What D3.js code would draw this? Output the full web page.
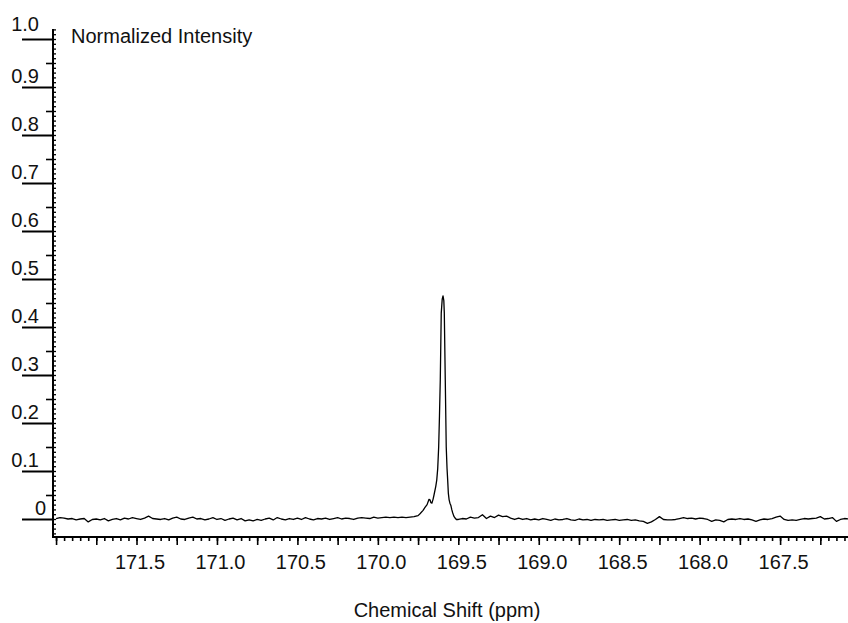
<!DOCTYPE html>
<html>
<head>
<meta charset="utf-8">
<script src="https://cdn.jsdelivr.net/npm/d3@7"></script>
<style>
  html, body { margin: 0; padding: 0; background: #fff; }
  svg { display: block; font-family: "Liberation Sans", Arial, sans-serif; }
</style>
</head>
<body>
<svg id="chart" width="848" height="623"></svg>
<script>
// 13C spectrum trace: [chemical shift (ppm), normalized intensity]
const downfieldBaseline = [
  [172.000, 0.001], [171.975, 0.003], [171.950, 0.002], [171.925, 0.000], [171.900, 0.001],
  [171.875, -0.002], [171.850, 0.000], [171.825, 0.001], [171.800, -0.006], [171.775, -0.001],
  [171.750, 0.000], [171.725, -0.002], [171.700, 0.001], [171.675, -0.004], [171.650, -0.001],
  [171.625, 0.001], [171.600, -0.002], [171.575, 0.002], [171.550, 0.000], [171.525, 0.003],
  [171.500, 0.001], [171.475, -0.001], [171.450, 0.002], [171.425, 0.006], [171.400, 0.001],
  [171.375, 0.000], [171.350, -0.001], [171.325, 0.001], [171.300, -0.002], [171.275, 0.002],
  [171.250, 0.004], [171.225, 0.000], [171.200, -0.001], [171.175, 0.002], [171.150, 0.004],
  [171.125, 0.000], [171.100, 0.001], [171.075, -0.002], [171.050, 0.000], [171.025, 0.003],
  [171.000, -0.001], [170.975, 0.001], [170.950, -0.003], [170.925, 0.000], [170.900, 0.002],
  [170.875, -0.002], [170.850, 0.001], [170.825, -0.004], [170.800, -0.002], [170.775, -0.004],
  [170.750, -0.001], [170.725, -0.003], [170.700, 0.000], [170.675, 0.002], [170.650, -0.002],
  [170.625, 0.003], [170.600, 0.000], [170.575, -0.002], [170.550, 0.001], [170.525, -0.001],
  [170.500, 0.002], [170.475, -0.001], [170.450, 0.003], [170.425, 0.000], [170.400, -0.002],
  [170.375, 0.001], [170.350, 0.000], [170.325, 0.002], [170.300, -0.001], [170.275, 0.001],
  [170.250, 0.003], [170.225, 0.000], [170.200, 0.002], [170.175, 0.001], [170.150, -0.001],
  [170.125, 0.002], [170.100, 0.003], [170.075, 0.002], [170.050, 0.001], [170.025, 0.004],
  [170.000, 0.002], [169.975, 0.003], [169.950, 0.004], [169.925, 0.003], [169.900, 0.004],
  [169.875, 0.003], [169.850, 0.004], [169.825, 0.003], [169.800, 0.004]
];

const peakRegion = [
  [169.775, 0.005], [169.750, 0.007], [169.738, 0.011], [169.719, 0.018], [169.707, 0.024],
  [169.694, 0.030], [169.682, 0.041], [169.676, 0.040], [169.670, 0.034], [169.664, 0.033],
  [169.657, 0.041], [169.651, 0.050], [169.640, 0.068], [169.634, 0.081], [169.628, 0.105],
  [169.622, 0.150], [169.617, 0.215], [169.612, 0.290], [169.606, 0.429], [169.600, 0.458],
  [169.595, 0.465], [169.590, 0.455], [169.587, 0.429], [169.581, 0.290], [169.575, 0.150],
  [169.570, 0.105], [169.566, 0.081], [169.562, 0.054], [169.557, 0.040], [169.552, 0.033],
  [169.546, 0.028], [169.540, 0.019], [169.535, 0.013], [169.528, 0.006], [169.520, 0.002],
  [169.512, -0.001]
];

const upfieldBaseline = [
  [169.500, -0.001], [169.475, 0.001], [169.450, 0.000], [169.425, 0.004], [169.400, 0.002],
  [169.375, 0.003], [169.350, 0.009], [169.325, 0.001], [169.300, 0.006], [169.275, 0.003],
  [169.250, 0.008], [169.225, 0.005], [169.200, 0.006], [169.175, 0.002], [169.150, -0.001],
  [169.125, 0.002], [169.100, -0.001], [169.075, 0.001], [169.050, -0.002], [169.025, 0.000],
  [169.000, -0.002], [168.975, 0.001], [168.950, -0.001], [168.925, -0.003], [168.900, 0.000],
  [168.875, -0.002], [168.850, -0.001], [168.825, 0.001], [168.800, -0.002], [168.775, -0.003],
  [168.750, 0.000], [168.725, -0.002], [168.700, -0.001], [168.675, -0.003], [168.650, -0.001],
  [168.625, -0.002], [168.600, -0.001], [168.575, -0.003], [168.550, -0.002], [168.525, -0.001],
  [168.500, -0.003], [168.475, -0.002], [168.450, -0.001], [168.425, -0.003], [168.400, -0.002],
  [168.375, -0.004], [168.350, -0.005], [168.325, -0.009], [168.300, -0.006], [168.275, -0.001],
  [168.250, 0.005], [168.225, -0.001], [168.200, -0.002], [168.175, -0.002], [168.150, -0.001],
  [168.125, 0.001], [168.100, 0.003], [168.075, 0.001], [168.050, 0.002], [168.025, 0.000],
  [168.000, 0.002], [167.975, 0.001], [167.950, -0.001], [167.925, -0.005], [167.900, -0.002],
  [167.875, -0.003], [167.850, -0.006], [167.825, -0.001], [167.800, 0.000], [167.775, -0.001],
  [167.750, 0.001], [167.725, -0.001], [167.700, 0.000], [167.675, -0.002], [167.650, -0.005],
  [167.625, -0.002], [167.600, 0.000], [167.575, -0.001], [167.550, 0.001], [167.525, 0.004],
  [167.500, 0.006], [167.475, -0.001], [167.450, -0.003], [167.425, -0.002], [167.400, -0.003],
  [167.375, -0.001], [167.350, 0.001], [167.325, 0.000], [167.300, 0.001], [167.275, 0.002],
  [167.250, 0.005], [167.225, 0.000], [167.200, 0.001], [167.175, 0.003], [167.150, -0.005],
  [167.125, -0.001], [167.100, 0.001], [167.075, 0.000]
];

const xLabelTicks = [171.5, 171.0, 170.5, 170.0, 169.5, 169.0, 168.5, 168.0, 167.5];
const yLabelTicks = [0, 0.1, 0.2, 0.3, 0.4, 0.5, 0.6, 0.7, 0.8, 0.9, 1.0];
const yAxisTitle = "Normalized Intensity";
const xAxisTitle = "Chemical Shift (ppm)";

const svg = d3.select("#chart");
const W = 848;

// ppm runs right-to-left, as usual for NMR
const x = d3.scaleLinear().domain([172.019, 167.078]).range([53, W]);
const y = d3.scaleLinear().domain([0, 1]).range([519, 39]);
const yLow = -0.0375, yHigh = 1.021;
const axisX = x.range()[0];
const axisY = y(yLow);

const fmtY = d => d === 0 ? "0" : d3.format(".1f")(d);

// ---- x axis: minor ticks every 0.05 ppm, longer ones every 0.25 ppm
const minorX = d3.range(0, 99).map(i => +(172 - i * 0.05).toFixed(2));
const majorX = d3.range(0, 20).map(i => +(172 - i * 0.25).toFixed(2));

const gx = svg.append("g").attr("transform", `translate(0,${axisY})`);
gx.append("g")
  .call(d3.axisBottom(x).tickValues(minorX).tickSize(4).tickSizeOuter(0).tickFormat(""))
  .call(g => g.select(".domain").remove())
  .selectAll("line").attr("stroke-width", 1.6);
gx.append("g")
  .call(d3.axisBottom(x).tickValues(majorX).tickSize(8).tickSizeOuter(0).tickFormat(""))
  .call(g => g.select(".domain").remove())
  .selectAll("line").attr("stroke-width", 1.6);
gx.append("g")
  .call(d3.axisBottom(x).tickValues(xLabelTicks).tickSize(0).tickPadding(18)
    .tickSizeOuter(0).tickFormat(d3.format(".1f")))
  .call(g => g.select(".domain").remove())
  .selectAll("text")
  .attr("dx", 3)
  .attr("font-size", 20)
  .attr("font-family", "Liberation Sans, Arial, sans-serif")
  .attr("fill", "#111");

// ---- y axis: long outer ticks at 0.1, short outer at 0.05, inner ticks every 0.01
const minorY = d3.range(-3, 103).map(i => i / 100);
const midY = d3.range(0, 10).map(i => +(0.05 + i * 0.1).toFixed(2));

const gy = svg.append("g").attr("transform", `translate(${axisX},0)`);
gy.append("g")
  .call(d3.axisRight(y).tickValues(minorY).tickSize(3).tickSizeOuter(0).tickFormat(""))
  .call(g => g.select(".domain").remove())
  .selectAll("line").attr("stroke-width", 1.3);
gy.append("g")
  .call(d3.axisLeft(y).tickValues(midY).tickSize(7).tickSizeOuter(0).tickFormat(""))
  .call(g => g.select(".domain").remove())
  .selectAll("line").attr("stroke-width", 1.6);
gy.append("g")
  .call(d3.axisLeft(y).tickValues(yLabelTicks).tickSize(31).tickSizeOuter(0).tickFormat(""))
  .call(g => g.select(".domain").remove())
  .selectAll("line").attr("stroke-width", 2);

// y labels sit just above their long tick
svg.append("g").selectAll("text")
  .data(yLabelTicks)
  .join("text")
  .attr("x", d => d === 0 ? 46 : 39)
  .attr("y", d => y(d) - (d === 1 ? 8 : 4))
  .attr("text-anchor", "end")
  .attr("font-size", 20)
  .attr("fill", "#111")
  .text(fmtY);

// axis lines
svg.append("line")
  .attr("x1", axisX).attr("x2", axisX)
  .attr("y1", y(yHigh)).attr("y2", axisY)
  .attr("stroke", "#000").attr("stroke-width", 2);
svg.append("line")
  .attr("x1", axisX - 1).attr("x2", W)
  .attr("y1", axisY).attr("y2", axisY)
  .attr("stroke", "#000").attr("stroke-width", 2);

// titles
svg.append("text")
  .attr("x", 71).attr("y", 43)
  .attr("font-size", 20).attr("fill", "#111")
  .text(yAxisTitle);
svg.append("text")
  .attr("x", 447).attr("y", 617)
  .attr("text-anchor", "middle")
  .attr("font-size", 20).attr("fill", "#111")
  .text(xAxisTitle);

// spectrum trace
const trace = downfieldBaseline.concat(peakRegion, upfieldBaseline);
svg.append("path")
  .datum(trace)
  .attr("fill", "none")
  .attr("stroke", "#000")
  .attr("stroke-width", 1.3)
  .attr("stroke-linejoin", "round")
  .attr("d", d3.line().x(d => x(d[0])).y(d => y(d[1])));
</script>
</body>
</html>
